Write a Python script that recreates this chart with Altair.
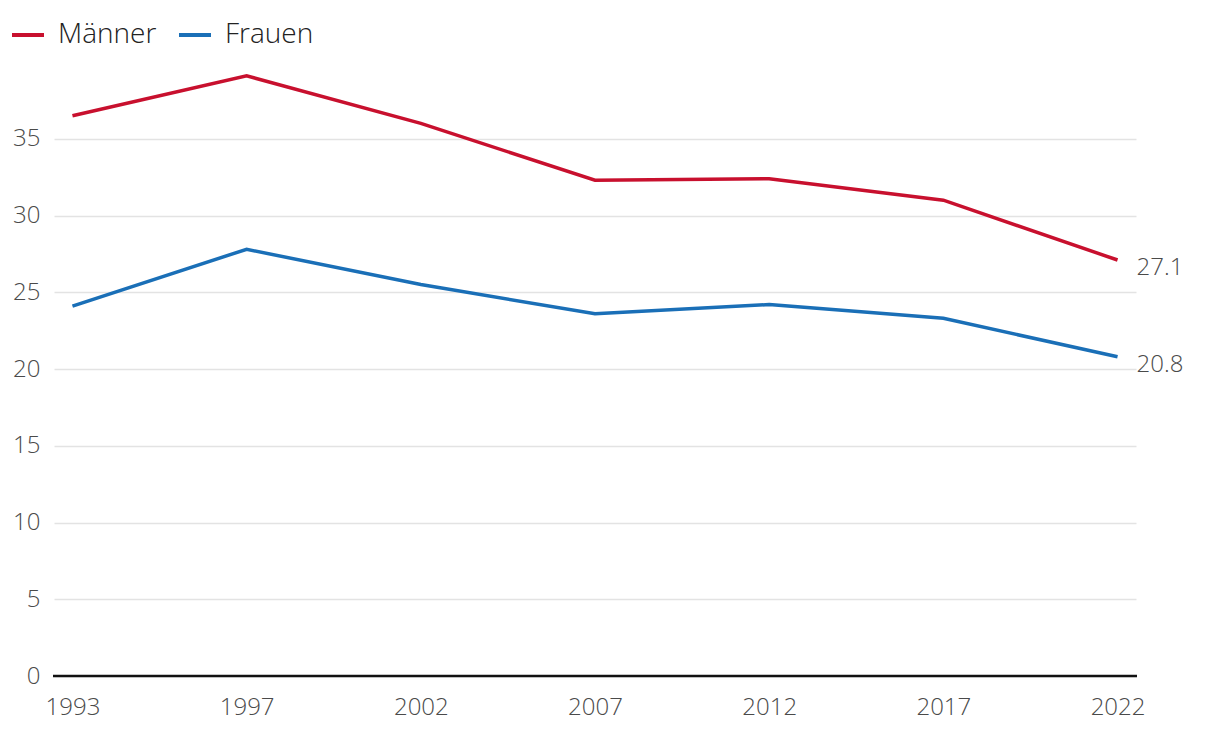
import altair as alt
import pandas as pd

years = ["1993", "1997", "2002", "2007", "2012", "2017", "2022"]
maenner = [36.5, 39.1, 36.0, 32.3, 32.4, 31.0, 27.1]
frauen = [24.1, 27.8, 25.5, 23.6, 24.2, 23.3, 20.8]
series = ["Männer", "Frauen"]
colors = ["#c8102e", "#1a6fb7"]

rows = []
for y, m, f in zip(years, maenner, frauen):
    rows.append({"Jahr": y, "Gruppe": "Männer", "Wert": m})
    rows.append({"Jahr": y, "Gruppe": "Frauen", "Wert": f})
df = pd.DataFrame(rows)
last = df[df["Jahr"] == years[-1]].copy()
last["Label"] = last["Wert"].map(lambda v: f"{v:.1f}")

FONT = "Open Sans"

x = alt.X("Jahr:O", sort=years, scale=alt.Scale(type="point", padding=0.106),
          axis=alt.Axis(title=None, labelAngle=0, ticks=False, domain=False,
                        labelFontSize=24, labelColor="#4a4a4a", labelPadding=19,
                        labelFont=FONT, labelFontWeight=300, grid=False))
y = alt.Y("Wert:Q", scale=alt.Scale(domain=[0, 40], nice=False, zero=True),
          axis=alt.Axis(title=None, values=[0, 5, 10, 15, 20, 25, 30, 35], ticks=False,
                        domain=False, labelFontSize=24, labelColor="#4a4a4a",
                        labelPadding=14, labelFont=FONT, labelFontWeight=300,
                        gridColor="#e3e3e3", gridWidth=1.5))
color = alt.Color("Gruppe:N", scale=alt.Scale(domain=series, range=colors),
                  legend=alt.Legend(title=None, orient="none", legendX=-44, legendY=-45,
                                    direction="horizontal", symbolType="stroke",
                                    symbolSize=1024, symbolStrokeWidth=4,
                                    labelFontSize=28, labelFont=FONT, labelFontWeight=300,
                                    labelColor="#222222", labelOffset=12, columnPadding=14))

lines = alt.Chart(df).mark_line(strokeWidth=3.5).encode(x=x, y=y, color=color)

zero = alt.Chart(pd.DataFrame({"v": [0]})).mark_rule(color="#111111", strokeWidth=2.5).encode(
    y=alt.Y("v:Q", scale=alt.Scale(domain=[0, 40], nice=False)),
    x=alt.value(-1), x2=alt.value(1083))

labels = alt.Chart(last).mark_text(align="left", baseline="middle", dx=19, dy=8,
                                   fontSize=24, font=FONT, fontWeight=300, color="#4a4a4a").encode(
    x=alt.X("Jahr:O", sort=years, scale=alt.Scale(type="point", padding=0.106)),
    y=alt.Y("Wert:Q", scale=alt.Scale(domain=[0, 40], nice=False)),
    text="Label:N")

chart = alt.layer(lines, zero, labels).properties(
    width=1082, height=614,
    autosize=alt.AutoSizeParams(type="none"),
    padding={"left": 46, "top": 54, "right": 70, "bottom": 50},
).configure(font=FONT).configure_view(strokeWidth=0, stroke=None)

chart.save("out.html", embed_options={"renderer": "svg", "actions": False})
